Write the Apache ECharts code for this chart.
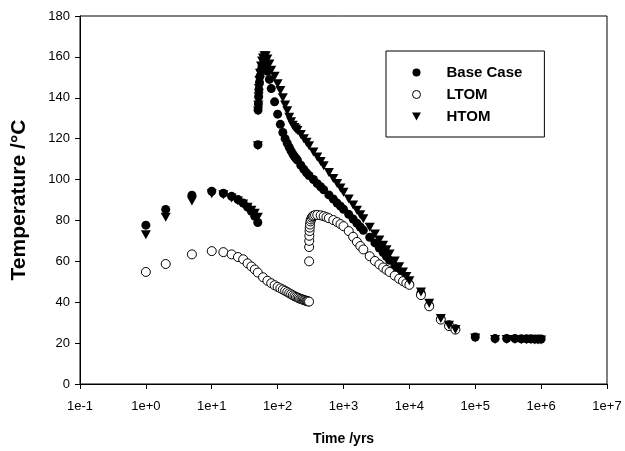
<!DOCTYPE html>
<html>
<head>
<meta charset="utf-8">
<script src="https://cdn.jsdelivr.net/npm/echarts@6/dist/echarts.min.js"></script>
<style>
  html, body { margin: 0; padding: 0; background: #fff; }
  #chart { width: 625px; height: 451px; }
</style>
</head>
<body>
<div id="chart"></div>
<script>
// Temperature history (°C) against time (years) for three cases.

// Early period, before the second heat pulse
const earlyTime = [1, 2, 5, 10, 15, 20, 25, 30, 35, 40, 45, 50];
const baseEarly = [77.7, 85.4, 92.3, 94.3, 93.3, 91.8, 90.2, 88.5, 86.5, 84.5, 82, 79];
const htomEarly = [73.5, 82, 90, 93.5, 93, 91.5, 90, 88.5, 87, 85.5, 84, 82];

// LTOM early period runs on to ~300 yrs
const ltomEarlyTime = [1, 2, 5, 10, 15, 20, 25, 30, 35, 40, 45, 50, 60, 70, 80, 90, 100,
  110, 120, 130, 140, 150, 160, 170, 180, 190, 200, 210, 220, 230, 240, 250, 260, 270, 280, 290, 300];
const ltomEarly = [54.8, 58.7, 63.4, 65, 64.5, 63.4, 62.1, 61, 59, 57.5, 56, 54.5, 52.2, 50.5, 49.3, 48.3, 47.5,
  46.8, 46.2, 45.6, 45, 44.4, 43.9, 43.4, 43, 42.6, 42.3, 42, 41.7, 41.5, 41.3, 41.1, 40.9, 40.7, 40.6, 40.4, 40.3];

// Heat pulse starting at ~50 yrs (Base Case and HTOM)
const pulseTime = [50.2, 50.5, 51, 51.5, 52, 53, 54, 56, 58, 60, 63, 66, 70, 75, 80, 90, 100,
  110, 120, 130, 140, 150, 160, 170, 180, 190];
const basePulse = [117, 134, 137, 140.5, 144, 147.5, 150.5, 153.5, 155.5, 156.5, 157, 156, 153, 149, 144.5, 138, 132,
  127, 123, 120, 117.8, 115.8, 114, 112.5, 111.3, 110.3];
const htomPulse = [117, 134, 137, 141, 145, 149, 152.5, 156, 158.5, 160, 161, 161, 159.5, 157, 154, 151, 147.3,
  144, 140.5, 137, 134.2, 131, 128.8, 127, 126, 125.2];

// Cooling from 200 yrs to 10^4 yrs
const coolTime = [200, 225, 250, 275, 300, 350, 400, 450, 500, 600, 700, 800, 900, 1000, 1200, 1400, 1600,
  1800, 2000, 2500, 3000, 3500, 4000, 4500, 5000, 6000, 7000, 8000, 9000, 10000];
const baseCool = [109.5, 107, 105, 103.3, 102, 100, 98, 96.5, 95, 92.5, 90.5, 88.5, 87, 85.5, 83, 80.7, 78.6,
  76.8, 75.2, 71.8, 69, 66.5, 64.3, 62.3, 60.5, 57.5, 55, 52.8, 50.8, 49];
const htomCool = [124.5, 122.5, 120.5, 118.7, 117, 114, 111.5, 109.3, 107.3, 104, 101, 98.5, 96.3, 94.3, 91, 88, 85.5,
  83.3, 81.3, 77.2, 73.8, 70.9, 68.3, 66.1, 64.1, 60.7, 57.8, 55.3, 53.1, 51];

// LTOM second rise after ~300 yrs
const ltomLateTime = [300.5, 301, 302, 303, 305, 307, 310, 315, 320, 330, 340, 350, 370, 400, 450, 500, 550, 600,
  700, 800, 900, 1000, 1200, 1400, 1600, 1800, 2000, 2500, 3000, 3500, 4000, 4500, 5000, 6000, 7000, 8000, 9000, 10000];
const ltomLate = [60, 67, 70, 72.5, 74.8, 76.5, 78, 79.5, 80.5, 81.4, 82, 82.3, 82.6, 82.7, 82.5, 82.1, 81.6, 81.1,
  80.2, 79.2, 78.2, 77.2, 74.8, 72, 69.5, 67.5, 65.8, 62.5, 60.2, 58.5, 57, 55.8, 54.8, 53, 51.5, 50.3, 49.3, 48.5];

// Long-term tail
const tailTime = [15000, 20000, 30000, 40000, 50000, 100000, 200000, 300000, 400000, 500000, 600000, 700000, 800000, 900000, 1000000];
const baseTail = [44.5, 38.5, 32, 29, 27, 23, 22.2, 22.2, 22.2, 22.1, 22.1, 22.1, 22, 22, 22];
const htomTail = [45.5, 40, 32.5, 29.2, 27.2, 23, 22.2, 22.2, 22.2, 22.1, 22.1, 22.1, 22, 22, 22];
const ltomTailTime = [15000, 20000, 30000, 40000, 50000];
const ltomTail = [43.5, 38, 31.5, 28.3, 26.6];

const xTicks = ['1e-1', '1e+0', '1e+1', '1e+2', '1e+3', '1e+4', '1e+5', '1e+6', '1e+7'];

function pairs(times, values) {
  return times.map((t, i) => [t, values[i]]);
}

const baseData = [].concat(pairs(earlyTime, baseEarly), pairs(pulseTime, basePulse),
  pairs(coolTime, baseCool), pairs(tailTime, baseTail));
const ltomData = [].concat(pairs(ltomEarlyTime, ltomEarly), pairs(ltomLateTime, ltomLate),
  pairs(ltomTailTime, ltomTail));
const htomData = [].concat(pairs(earlyTime, htomEarly), pairs(pulseTime, htomPulse),
  pairs(coolTime, htomCool), pairs(tailTime, htomTail));

const FONT = 'Liberation Sans, Arial, sans-serif';
const TRIANGLE_DOWN = 'path://M0,0 L10,0 L5,9 Z';

const chart = echarts.init(document.getElementById('chart'), null, { renderer: 'canvas' });
chart.setOption({
  animation: false,
  backgroundColor: '#fff',
  grid: {
    left: 80, right: 18, top: 16, bottom: 66,
    show: true, borderColor: '#000', borderWidth: 1, backgroundColor: 'transparent'
  },
  legend: {
    orient: 'vertical',
    left: 386, top: 51,
    padding: [14, 22, 13, 26],
    itemGap: 7,
    itemWidth: 50, itemHeight: 8,
    borderColor: '#000', borderWidth: 1,
    textStyle: { fontFamily: FONT, fontWeight: 'bold', fontSize: 15, color: '#000' },
    data: [
      { name: 'Base Case', icon: 'circle', itemStyle: { color: '#000', borderWidth: 0 } },
      { name: 'LTOM', icon: 'circle', itemStyle: { color: '#fff', borderColor: '#000', borderWidth: 1 } },
      { name: 'HTOM', icon: TRIANGLE_DOWN, itemStyle: { color: '#000', borderWidth: 0 } }
    ]
  },
  xAxis: {
    type: 'log', logBase: 10, min: 0.1, max: 1e7,
    name: 'Time /yrs', nameLocation: 'middle', nameGap: 48,
    nameTextStyle: { fontFamily: FONT, fontWeight: 'bold', fontSize: 14, color: '#000' },
    axisLine: { lineStyle: { color: '#000', width: 1 } },
    axisTick: { show: true, inside: false, length: 5, lineStyle: { color: '#000' } },
    minorTick: { show: false },
    splitLine: { show: false },
    axisLabel: {
      fontFamily: FONT, fontSize: 13, color: '#000', margin: 16,
      formatter: v => xTicks[Math.round(Math.log10(v)) + 1]
    }
  },
  yAxis: {
    type: 'value', min: 0, max: 180, interval: 20,
    name: 'Temperature /°C', nameLocation: 'middle', nameGap: 50,
    nameTextStyle: { fontFamily: FONT, fontWeight: 'bold', fontSize: 21, color: '#000' },
    axisLine: { show: true, lineStyle: { color: '#000', width: 1 } },
    axisTick: { show: true, inside: false, length: 5, lineStyle: { color: '#000' } },
    splitLine: { show: false },
    axisLabel: { fontFamily: FONT, fontSize: 13, color: '#000', margin: 10 }
  },
  series: [
    {
      name: 'Base Case', type: 'scatter', data: baseData,
      symbol: 'circle', symbolSize: 9,
      itemStyle: { color: '#000', borderWidth: 0, opacity: 1 },
      z: 2
    },
    {
      name: 'LTOM', type: 'scatter', data: ltomData,
      symbol: 'circle', symbolSize: 9,
      itemStyle: { color: '#fff', borderColor: '#000', borderWidth: 1, opacity: 1 },
      z: 3
    },
    {
      name: 'HTOM', type: 'scatter', data: htomData,
      symbol: TRIANGLE_DOWN, symbolSize: [10, 9], symbolOffset: [0, 1],
      itemStyle: { color: '#000', borderWidth: 0, opacity: 1 },
      z: 4
    }
  ]
});
</script>
</body>
</html>
